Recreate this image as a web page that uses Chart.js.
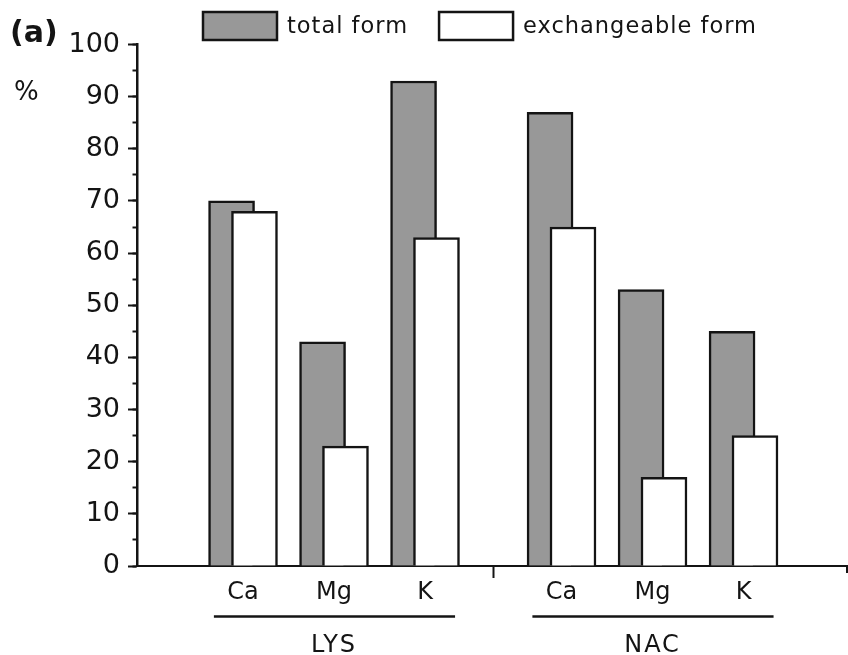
<!DOCTYPE html>
<html>
<head>
<meta charset="utf-8">
<script src="https://cdn.jsdelivr.net/npm/chart.js@4.4.1/dist/chart.umd.min.js"></script>
<style>
  html, body { margin: 0; padding: 0; background: #fff; }
  #wrap { position: relative; width: 848px; height: 655px; }
</style>
</head>
<body>
<div id="wrap"><canvas id="chart"></canvas></div>
<script>
// --- data ---
const elements = ['Ca', 'Mg', 'K'];
const groups = ['LYS', 'NAC'];
const seriesLabels = ['total form', 'exchangeable form'];
const totalForm = [70, 43, 93, 87, 53, 45];
const exchangeableForm = [68, 23, 63, 65, 17, 25];
const yTickValues = [0, 10, 20, 30, 40, 50, 60, 70, 80, 90, 100];

const INK = '#141414';
const GRAY = '#989898';
const FONT = "'DejaVu Sans', sans-serif";

// one x slot per element, half a slot of air between the two groups
const GROUP_STEP = elements.length + 0.5;
const slots = [];
const slotLabels = [];
groups.forEach((g, gi) => {
    elements.forEach((el, ei) => {
        slots.push(gi * GROUP_STEP + ei);
        slotLabels.push(el);
    });
});
// the two bars of a pair overlap by half their width
const PAIR_SHIFT = 0.126;
const toPoints = (vals, shift) => vals.map((v, i) => ({ x: slots[i] + shift, y: v }));

function withSpacing(ctx, px) {
    if ('letterSpacing' in ctx) ctx.letterSpacing = px + 'px';
}

// legend, group labels, divider tick, panel letter and unit
const extras = {
    id: 'extras',
    afterDraw(chart) {
        const { ctx, chartArea } = chart;
        const xs = chart.scales.x;
        const base = chartArea.bottom;
        ctx.save();
        ctx.strokeStyle = INK;
        ctx.fillStyle = INK;

        // divider between groups
        ctx.lineWidth = 2;
        for (let gi = 1; gi < groups.length; gi++) {
            const px = Math.round(xs.getPixelForValue(gi * GROUP_STEP - 0.75)) + 0.5;
            ctx.beginPath();
            ctx.moveTo(px, base);
            ctx.lineTo(px, base + 12);
            ctx.stroke();
        }
        // small tick at the right end of the axis
        ctx.beginPath();
        ctx.moveTo(chartArea.right - 1, base);
        ctx.lineTo(chartArea.right - 1, base + 7);
        ctx.stroke();

        // group underline + name
        ctx.font = '24px ' + FONT;
        ctx.textAlign = 'center';
        ctx.textBaseline = 'alphabetic';
        withSpacing(ctx, 2);
        groups.forEach((g, gi) => {
            const first = slots[gi * elements.length];
            const last = slots[gi * elements.length + elements.length - 1];
            const l = xs.getPixelForValue(first - 0.32);
            const r = xs.getPixelForValue(last + 0.33);
            ctx.lineWidth = 2.5;
            ctx.beginPath();
            ctx.moveTo(l, base + 50.5);
            ctx.lineTo(r, base + 50.5);
            ctx.stroke();
            ctx.fillText(g, xs.getPixelForValue((first + last) / 2), base + 86);
        });

        // legend
        ctx.textAlign = 'left';
        ctx.textBaseline = 'middle';
        ctx.font = '22.5px ' + FONT;
        withSpacing(ctx, 1);
        let lx = 203;
        chart.data.datasets.forEach(ds => {
            ctx.fillStyle = ds.backgroundColor;
            ctx.fillRect(lx, 12, 74, 28);
            ctx.lineWidth = 2.5;
            ctx.strokeStyle = INK;
            ctx.strokeRect(lx, 12, 74, 28);
            ctx.fillStyle = INK;
            ctx.fillText(ds.label, lx + 84, 27);
            lx += 84 + ctx.measureText(ds.label).width + 31;
        });

        // panel letter and unit
        withSpacing(ctx, 0);
        ctx.textBaseline = 'alphabetic';
        ctx.font = 'bold 30px ' + FONT;
        ctx.fillText('(a)', 10, 42);
        ctx.font = '26px ' + FONT;
        ctx.fillText('%', 14, 100);
        ctx.restore();
    }
};

new Chart(document.getElementById('chart'), {
    type: 'bar',
    data: {
        datasets: [
            {
                label: seriesLabels[0],
                data: toPoints(totalForm, -PAIR_SHIFT),
                backgroundColor: GRAY,
                borderColor: INK,
                borderWidth: 2.5,
                order: 1
            },
            {
                label: seriesLabels[1],
                data: toPoints(exchangeableForm, PAIR_SHIFT),
                backgroundColor: '#ffffff',
                borderColor: INK,
                borderWidth: 2.5,
                order: 0   // drawn last so it sits over the grey bar
            }
        ]
    },
    options: {
        responsive: true,
        maintainAspectRatio: false,
        animation: false,
        grouped: false,
        barThickness: 46,
        layout: { padding: { top: 44.5, right: 0, left: 0, bottom: 0 } },
        plugins: {
            legend: { display: false },
            tooltip: { enabled: false }
        },
        scales: {
            x: {
                type: 'linear',
                offset: false,
                min: -1.165,
                max: 6.648,
                afterBuildTicks: scale => {
                    scale.ticks = slots.map(v => ({ value: v }));
                },
                afterFit: scale => { scale.height = 89; },
                ticks: {
                    color: INK,
                    font: { family: FONT, size: 24 },
                    padding: 12,
                    maxRotation: 0,
                    autoSkip: false,
                    callback: (value, index) => slotLabels[index]
                },
                grid: { display: false, drawTicks: false, offset: false },
                border: { display: true, color: INK, width: 2 }
            },
            y: {
                position: 'left',
                weight: 1,
                min: 0,
                max: 100,
                afterBuildTicks: scale => {
                    scale.ticks = yTickValues.map(v => ({ value: v }));
                },
                afterFit: scale => { scale.width = 137; },
                ticks: {
                    color: INK,
                    font: { family: FONT, size: 27 },
                    padding: 8
                },
                grid: {
                    drawOnChartArea: false,
                    tickLength: 9,
                    tickWidth: 2,
                    tickColor: INK
                },
                border: { display: true, color: INK, width: 2.5 }
            },
            yMinor: {
                position: 'left',
                weight: 0,
                min: 0,
                max: 100,
                afterFit: scale => { scale.width = 0; },
                ticks: { display: false, stepSize: 5 },
                grid: {
                    drawOnChartArea: false,
                    tickLength: 4.5,
                    tickWidth: 2,
                    tickColor: INK
                },
                border: { display: false }
            }
        }
    },
    plugins: [extras]
});
</script>
</body>
</html>
